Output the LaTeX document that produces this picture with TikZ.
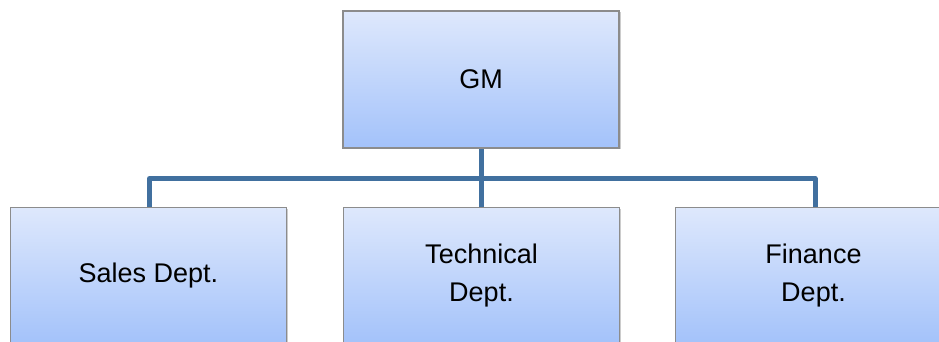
\documentclass[tikz,border=0pt]{standalone}
\usepackage{fontspec}
\setmainfont{Liberation Sans}
\usetikzlibrary{shadows,backgrounds}
\definecolor{boxtop}{HTML}{DEE8FC}
\definecolor{boxbot}{HTML}{A3C2FA}
\definecolor{boxline}{HTML}{8C8C8C}
\definecolor{conncol}{HTML}{41709F}
\tikzset{
  orgbox/.style={draw=boxline, line width=1.2pt, top color=boxtop, bottom color=boxbot,
    minimum width=276pt, minimum height=137pt, inner sep=0pt, align=center,
    font=\fontsize{27}{38}\selectfont,
    drop shadow={shadow xshift=1.5pt, shadow yshift=-1.5pt, fill=black!40, opacity=.5}},
  conn/.style={draw=conncol, line width=5pt, line join=round}
}
\begin{document}
\begin{tikzpicture}[x=1pt,y=1pt]
\useasboundingbox (0,0) rectangle (939,342);
\node[orgbox] (gm) at (481,262.5) {GM};
\node[orgbox] (sales) at (148.5,66) {Sales Dept.};
\node[orgbox] (tech) at (481.5,66) {Technical\\Dept.};
\node[orgbox] (fin) at (813.5,66) {Finance\\Dept.};
\coordinate (busL) at (149.5,163.5);
\coordinate (busR) at (815,163.5);
\begin{scope}[on background layer]
\draw[conn] (sales.north -| busL) -- (busL) -- (busR) -- (fin.north -| busR);
\draw[conn] (gm.south) -- (gm.south |- tech.north);
\end{scope}
\end{tikzpicture}
\end{document}
